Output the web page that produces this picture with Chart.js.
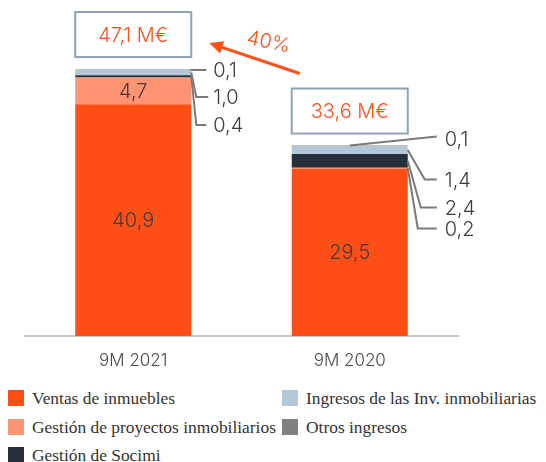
<!DOCTYPE html>
<html>
<head>
<meta charset="utf-8">
<script src="https://cdn.jsdelivr.net/npm/chart.js@4/dist/chart.umd.min.js"></script>
<style>
  body { margin: 0; background: #fff; width: 546px; height: 462px; overflow: hidden; position: relative; }
  #wrap { position: absolute; left: 0; top: 0; width: 546px; height: 380px; }
  .legend { position: absolute; left: 0; top: 0; width: 546px; font-family: 'Liberation Serif', serif; font-size: 17.4px; color: #333; }
  .item { position: absolute; display: flex; align-items: center; white-space: nowrap; height: 20px; }
  .sw { width: 16px; height: 16px; margin-right: 8px; flex: none; }
</style>
</head>
<body>
<div id="wrap"><canvas id="chart" width="546" height="380"></canvas></div>
<div class="legend" id="legend"></div>
<script>
const categories = ['9M 2021', '9M 2020'];
const ventasInmuebles = [40.9, 29.5];
const gestionProyectos = [4.7, 0.2];
const gestionSocimi = [0.4, 2.4];
const ingresosInversiones = [1.0, 1.4];
const otrosIngresos = [0.1, 0.1];
const totales = [47.1, 33.6];
const crecimiento = '40%';

const seriesNames = [
  'Ventas de inmuebles',
  'Gestión de proyectos inmobiliarios',
  'Gestión de Socimi',
  'Ingresos de las Inv. inmobiliarias',
  'Otros ingresos'
];
const seriesColors = ['#ff4f17', '#ff9372', '#26303a', '#b4c7d6', '#808080'];
const seriesData = [ventasInmuebles, gestionProyectos, gestionSocimi, ingresosInversiones, otrosIngresos];

const numFont = '300 20px Inter, "Open Sans", sans-serif';
const fmt = v => v.toFixed(1).replace('.', ',');

// labels outside the bars, linked with a leader line (offsets relative to the stack top)
const leaders = [
  { bar: 0, ds: 4, dy: 1, bend: 0, end: 15, text: 22 },
  { bar: 0, ds: 3, dy: 28, bend: 5, end: 17, text: 22 },
  { bar: 0, ds: 2, dy: 56, bend: 5, end: 15, text: 22 },
  { bar: 1, ds: 4, dy: -9, fromTop: true, end: 29, text: 37 },
  { bar: 1, ds: 3, dy: 34, bend: 17, end: 29, text: 37 },
  { bar: 1, ds: 2, dy: 62, bend: 13, end: 29, text: 37 },
  { bar: 1, ds: 1, dy: 83, bend: 10, end: 29, text: 37 }
];

const annotations = {
  id: 'annotations',
  afterDatasetsDraw(chart) {
    const ctx = chart.ctx;
    const metas = chart.data.datasets.map((d, i) => chart.getDatasetMeta(i));
    const top = j => metas[metas.length - 1].data[j].y;
    ctx.save();

    // values inside big segments
    ctx.font = numFont;
    ctx.fillStyle = '#3d3d3d';
    ctx.textAlign = 'center';
    ctx.textBaseline = 'middle';
    metas.forEach((meta, i) => meta.data.forEach((bar, j) => {
      if (bar.base - bar.y > 20) {
        ctx.fillText(fmt(chart.data.datasets[i].data[j]), bar.x, (bar.y + bar.base) / 2 + 1);
      }
    }));

    // leader lines
    ctx.strokeStyle = '#7a7a7a';
    ctx.lineWidth = 2;
    ctx.textAlign = 'left';
    leaders.forEach(l => {
      const bar = metas[l.ds].data[l.bar];
      const right = bar.x + bar.width / 2;
      const ty = top(l.bar) + l.dy;
      ctx.beginPath();
      if (l.fromTop) {
        ctx.moveTo(bar.x, top(l.bar));
        ctx.lineTo(right + l.end, ty);
      } else {
        ctx.moveTo(right, (bar.y + bar.base) / 2);
        ctx.lineTo(right + l.bend, ty);
        ctx.lineTo(right + l.end, ty);
      }
      ctx.stroke();
      ctx.fillText(fmt(chart.data.datasets[l.ds].data[l.bar]), right + l.text, ty + (l.fromTop ? 3 : 1));
    });

    // total boxes
    const boxes = totales.map((t, j) => {
      const bar = metas[0].data[j];
      const b = { left: bar.x - bar.width / 2, right: bar.x + bar.width / 2, bottom: top(j) - 12 };
      b.top = b.bottom - 45;
      ctx.fillStyle = '#fff';
      ctx.fillRect(b.left, b.top, b.right - b.left, 45);
      ctx.strokeStyle = '#8ea3b8';
      ctx.lineWidth = 2;
      ctx.strokeRect(b.left, b.top, b.right - b.left, 45);
      ctx.fillStyle = '#ff4f17';
      ctx.textAlign = 'center';
      ctx.fillText(fmt(t) + ' M€', bar.x, (b.top + b.bottom) / 2 + 1);
      return b;
    });

    // growth arrow
    const x0 = boxes[1].left + 8, y0 = boxes[1].top - 15;
    const x1 = boxes[0].right + 18, y1 = boxes[0].top + 31;
    const ang = Math.atan2(y1 - y0, x1 - x0);
    const head = 15;
    ctx.strokeStyle = '#ff4f17';
    ctx.fillStyle = '#ff4f17';
    ctx.lineWidth = 3;
    ctx.beginPath();
    ctx.moveTo(x0, y0);
    ctx.lineTo(x1 - Math.cos(ang) * head * 0.8, y1 - Math.sin(ang) * head * 0.8);
    ctx.stroke();
    ctx.beginPath();
    ctx.moveTo(x1, y1);
    ctx.lineTo(x1 - head * Math.cos(ang - 0.45), y1 - head * Math.sin(ang - 0.45));
    ctx.lineTo(x1 - head * Math.cos(ang + 0.45), y1 - head * Math.sin(ang + 0.45));
    ctx.closePath();
    ctx.fill();
    ctx.save();
    ctx.translate((x0 + x1) / 2 + 14, (y0 + y1) / 2 - 16);
    ctx.rotate(0.2);
    ctx.fillText(crecimiento, 0, 0);
    ctx.restore();

    ctx.restore();
  }
};

new Chart(document.getElementById('chart'), {
  type: 'bar',
  data: {
    labels: categories,
    datasets: seriesData.map((d, i) => ({
      label: seriesNames[i],
      data: d,
      backgroundColor: seriesColors[i],
      borderWidth: 0,
      barPercentage: 1,
      categoryPercentage: 0.536
    }))
  },
  options: {
    responsive: false,
    animation: false,
    layout: { padding: { left: 25, right: 88, top: 0, bottom: 0 } },
    plugins: { legend: { display: false }, tooltip: { enabled: false } },
    scales: {
      x: {
        stacked: true,
        grid: { display: false, drawTicks: false },
        border: { display: true, color: '#c8c8c8', width: 2 },
        ticks: { padding: 15, color: '#4a4a4a', font: { family: 'Inter', size: 17, weight: 300 } },
        afterFit: s => { s.height = 44; }
      },
      y: {
        stacked: true,
        display: false,
        min: 0,
        max: 59.27
      }
    }
  },
  plugins: [annotations]
});

// legend, two columns
const legendPos = [[8, 398], [8, 427], [8, 455], [282, 398], [282, 427]];
const legend = document.getElementById('legend');
seriesNames.forEach((name, i) => {
  const it = document.createElement('div');
  it.className = 'item';
  it.style.left = legendPos[i][0] + 'px';
  it.style.top = (legendPos[i][1] - 10) + 'px';
  it.innerHTML = '<span class="sw" style="background:' + seriesColors[i] + '"></span><span>' + name + '</span>';
  legend.appendChild(it);
});
</script>
</body>
</html>
